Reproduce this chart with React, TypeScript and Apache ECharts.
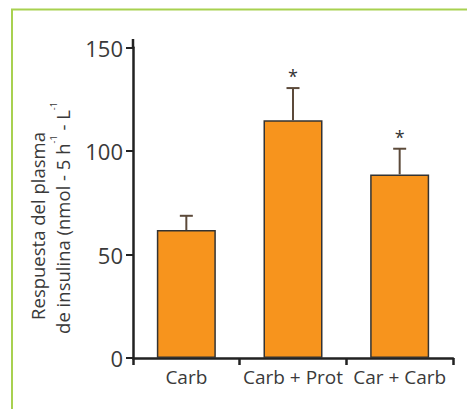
import React, { useEffect, useRef } from "react";
import * as echarts from "echarts";

const categories = ["Carb", "Carb + Prot", "Car + Carb"];
const means = [61.8, 114.8, 88.7];
const errorTops = [68.7, 130.4, 101.1];
const significance = ["", "*", "*"];
const yTicks = [0, 50, 100, 150];
const yTitleLine1 = "Respuesta del plasma";

const FONT = "'Open Sans', 'Noto Sans', sans-serif";

export default function App() {
  const ref = useRef<HTMLDivElement>(null);
  useEffect(() => {
    document.body.style.margin = "0";
    const chart = echarts.init(ref.current!, null, { renderer: "svg" });
    const option: any = {
      animation: false,
      backgroundColor: "#fff",
      grid: { left: 133, right: 14, top: 47.5, bottom: 51 },
      xAxis: {
        type: "category",
        data: categories,
        axisLine: { lineStyle: { color: "#222", width: 2.5 } },
        axisTick: { show: true, length: 7, lineStyle: { color: "#222", width: 2.5 } },
        axisLabel: {
          color: "#3a3a3a",
          fontSize: 19,
          fontFamily: FONT,
          margin: 9,
          interval: 0,
          hideOverlap: false,
        },
      },
      yAxis: {
        type: "value",
        min: yTicks[0],
        max: yTicks[yTicks.length - 1],
        interval: 50,
        splitLine: { show: false },
        axisLine: { show: true, lineStyle: { color: "#222", width: 2.5 } },
        axisTick: { show: true, length: 7, lineStyle: { color: "#222", width: 2 } },
        axisLabel: { color: "#3a3a3a", fontSize: 22, fontFamily: FONT, margin: 10 },
      },
      series: [
        {
          type: "bar",
          data: means,
          barWidth: 59,
          itemStyle: { color: "#F7941D", borderColor: "#333", borderWidth: 1.5 },
          z: 2,
        },
        {
          type: "custom",
          data: means.map((m, i) => [i, m, errorTops[i]]),
          z: 3,
          renderItem: (params: any, api: any) => {
            const i = api.value(0);
            const base = api.coord([i, api.value(1)]);
            const top = api.coord([i, api.value(2)]);
            const x = base[0];
            const stroke = { stroke: "#5c4a3a", lineWidth: 2 };
            const children: any[] = [
              { type: "line", shape: { x1: x, y1: base[1], x2: x, y2: top[1] }, style: stroke },
              { type: "line", shape: { x1: x - 6.5, y1: top[1], x2: x + 6.5, y2: top[1] }, style: stroke },
            ];
            const sig = significance[params.dataIndex];
            if (sig) {
              children.push({
                type: "text",
                style: {
                  text: sig,
                  x: x,
                  y: top[1] - 3,
                  align: "center",
                  verticalAlign: "bottom",
                  fontSize: 18,
                  fontFamily: FONT,
                  fill: "#333",
                },
              });
            }
            return { type: "group", children };
          },
        },
      ],
    };
    chart.setOption(option);

    const p0 = chart.convertToPixel({ gridIndex: 0 }, [0, yTicks[yTicks.length - 1]]);
    const axisX = 133;
    chart.setOption({
      graphic: [
        {
          type: "polyline",
          shape: { points: [[12, 409], [12, 9.5], [467, 9.5]] },
          style: { stroke: "#a8d150", lineWidth: 2, fill: "none" },
          silent: true,
        },
        {
          type: "line",
          shape: { x1: axisX, y1: p0[1] + 1, x2: axisX, y2: p0[1] - 8.5 },
          style: { stroke: "#222", lineWidth: 2.5 },
          silent: true,
        },
        {
          type: "text",
          x: 37,
          y: 226,
          rotation: Math.PI / 2,
          style: {
            text: yTitleLine1,
            align: "center",
            verticalAlign: "middle",
            fontSize: 18.5,
            fontFamily: FONT,
            fill: "#3a3a3a",
          },
        },
        {
          type: "text",
          x: 62,
          y: 218,
          rotation: Math.PI / 2,
          style: {
            text: "de insulina (nmol - 5 h{s|-1} - L{s|-1}",
            align: "center",
            verticalAlign: "middle",
            fontSize: 18.5,
            fontFamily: FONT,
            fill: "#3a3a3a",
            rich: {
              s: { fontSize: 9, fontFamily: FONT, fill: "#3a3a3a", verticalAlign: "top", lineHeight: 26, padding: [0, 0, 10, 0] },
            },
          },
        },
      ],
    });
    return () => chart.dispose();
  }, []);
  return <div ref={ref} style={{ width: 467, height: 409, position: "fixed", left: 0, top: 0 }} />;
}
